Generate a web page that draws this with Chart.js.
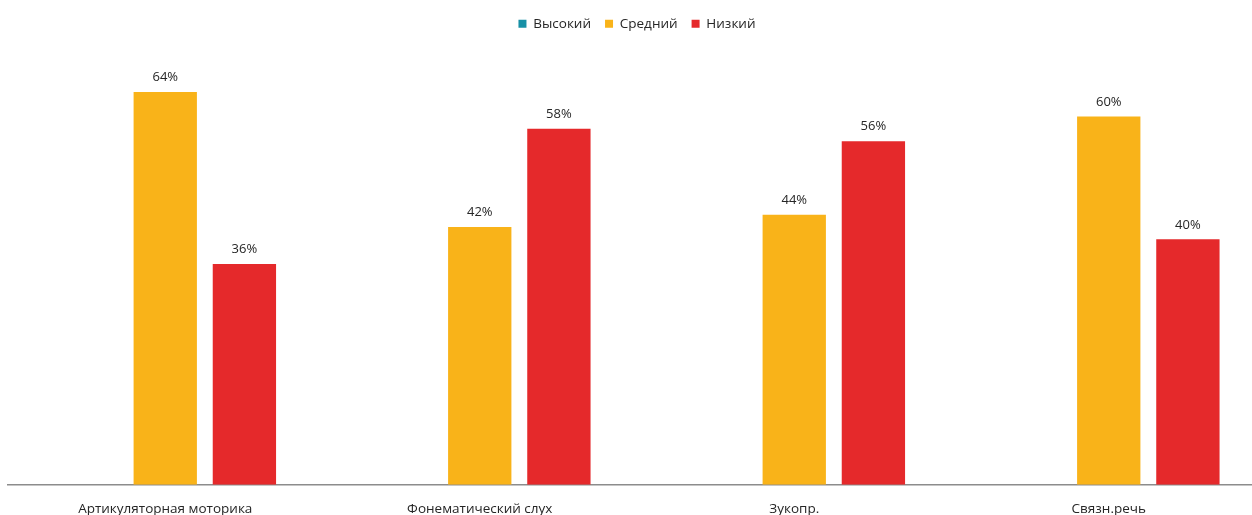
<!DOCTYPE html>
<html>
<head>
<meta charset="utf-8">
<script src="https://cdn.jsdelivr.net/npm/chart.js@4/dist/chart.umd.min.js"></script>
<style>
    html, body { margin: 0; padding: 0; background: #ffffff; overflow: hidden; }
    #wrap { position: relative; width: 1274px; height: 533px; }
</style>
</head>
<body>
<div id="wrap"><canvas id="levelsChart"></canvas></div>
<script>
// Categories and series
const categories = ['Артикуляторная моторика', 'Фонематический слух', 'Зукопр.', 'Связн.речь'];
const highValues = [0, 0, 0, 0];
const midValues = [64, 42, 44, 60];
const lowValues = [36, 58, 56, 40];

const COLORS = {
    high: '#1790a6',
    mid: '#f9b319',
    low: '#e5292b'
};

const FONT = '"Open Sans", "Noto Sans", sans-serif';

// Percent labels above each non-zero bar
const barLabels = {
    id: 'barLabels',
    afterDatasetsDraw(chart) {
        const ctx = chart.ctx;
        ctx.save();
        ctx.font = '13px ' + FONT;
        ctx.fillStyle = '#262626';
        ctx.textAlign = 'center';
        ctx.textBaseline = 'bottom';
        chart.data.datasets.forEach((ds, i) => {
            const meta = chart.getDatasetMeta(i);
            meta.data.forEach((bar, j) => {
                const v = ds.data[j];
                if (!v) return;
                ctx.fillText(v + '%', bar.x, bar.y - 8);
            });
        });
        ctx.restore();
    }
};

new Chart(document.getElementById('levelsChart'), {
    type: 'bar',
    data: {
        labels: categories,
        datasets: [
            { label: 'Высокий', data: highValues, backgroundColor: COLORS.high },
            { label: 'Средний', data: midValues, backgroundColor: COLORS.mid },
            { label: 'Низкий', data: lowValues, backgroundColor: COLORS.low }
        ]
    },
    options: {
        responsive: true,
        maintainAspectRatio: false,
        animation: false,
        layout: { padding: { top: 3, left: 8, right: 8, bottom: 0 } },
        datasets: {
            bar: { barPercentage: 0.8, categoryPercentage: 0.755 }
        },
        plugins: {
            legend: {
                position: 'top',
                labels: {
                    font: { family: FONT, size: 13.5 },
                    color: '#262626',
                    usePointStyle: true,
                    pointStyle: 'rect',
                    boxWidth: 8,
                    boxHeight: 8,
                    padding: 14
                }
            },
            tooltip: { enabled: false }
        },
        scales: {
            x: {
                grid: { display: false, drawTicks: false },
                border: { display: true, color: '#8c8c8c', width: 1.5 },
                ticks: {
                    font: { family: FONT, size: 13.5 },
                    color: '#262626',
                    padding: 16,
                    maxRotation: 0
                }
            },
            y: {
                display: false,
                min: 0,
                max: 72.4
            }
        }
    },
    plugins: [barLabels]
});
</script>
</body>
</html>
